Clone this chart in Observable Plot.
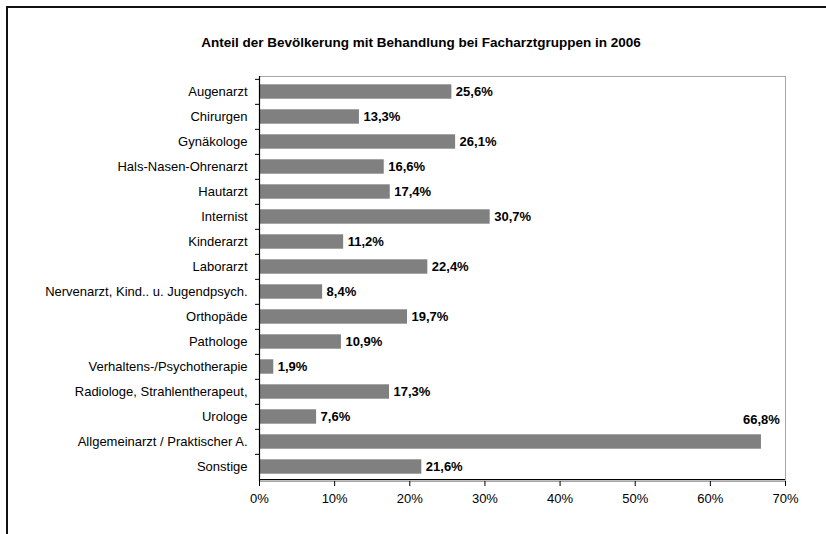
<!DOCTYPE html>
<html>
<head>
<meta charset="utf-8">
<script src="https://cdn.jsdelivr.net/npm/d3@7"></script>
<script src="https://cdn.jsdelivr.net/npm/@observablehq/plot@0.6"></script>
<style>
  html, body { margin: 0; padding: 0; background: #fff; overflow: hidden; }
  #wrap { position: relative; width: 826px; height: 534px; font-family: "Liberation Sans", Arial, sans-serif; }
  #frame { position: absolute; left: 6px; top: 6px; width: 900px; height: 700px; border: 2px solid #111; box-sizing: border-box; }
  #title { position: absolute; top: 35px; left: 421px; transform: translateX(-50%); white-space: nowrap; font-weight: bold; font-size: 13.5px; color: #000; }
  #chart { position: absolute; left: 0; top: 0; }
</style>
</head>
<body>
<div id="wrap">
  <div id="frame"></div>
  <div id="chart"></div>
  <div id="title">Anteil der Bevölkerung mit Behandlung bei Facharztgruppen in 2006</div>
</div>
<script>
const categories = [
  "Augenarzt", "Chirurgen", "Gynäkologe", "Hals-Nasen-Ohrenarzt", "Hautarzt",
  "Internist", "Kinderarzt", "Laborarzt", "Nervenarzt, Kind.. u. Jugendpsych.",
  "Orthopäde", "Pathologe", "Verhaltens-/Psychotherapie", "Radiologe, Strahlentherapeut,",
  "Urologe", "Allgemeinarzt / Praktischer A.", "Sonstige"
];
const values = [25.6, 13.3, 26.1, 16.6, 17.4, 30.7, 11.2, 22.4, 8.4, 19.7, 10.9, 1.9, 17.3, 7.6, 66.8, 21.6];
const xTicks = [0, 10, 20, 30, 40, 50, 60, 70];

const data = categories.map((c, i) => ({category: c, value: values[i]}));
const fmt = v => v.toFixed(1).replace(".", ",") + "%";

const W = 826, H = 534;
const mL = 259, mR = 41, mT = 76, mB = 53;
const step = (H - mT - mB) / categories.length;

const chart = Plot.plot({
  width: W,
  height: H,
  marginLeft: mL,
  marginRight: mR,
  marginTop: mT,
  marginBottom: mB,
  style: {fontFamily: "'Liberation Sans', Arial, sans-serif", fontSize: "13px", color: "#000", background: "transparent", overflow: "visible"},
  x: {domain: [0, 70]},
  y: {domain: categories, padding: 0},
  marks: [
    Plot.frame({stroke: "#a6a6a6", strokeWidth: 1}),
    Plot.barX(data, {x: "value", y: "category", fill: "#808080", insetTop: 5.3, insetBottom: 5.3}),
    Plot.ruleX([0], {stroke: "#000", strokeWidth: 1.2}),
    Plot.ruleY([0], {y: () => categories[categories.length - 1], dy: step / 2, stroke: "#000", strokeWidth: 1.2}),
    Plot.axisY({tickSize: 4, dy: -step / 2, text: null, label: null, stroke: "#000"}),
    Plot.axisY({tickSize: 0, tickPadding: 12, label: null, fontSize: 13, fill: "#000"}),
    Plot.axisX({ticks: xTicks, tickSize: 5, tickPadding: 7, tickFormat: d => d + "%", label: null, fontSize: 13, fill: "#000", stroke: "#000"}),
    Plot.text(data.filter(d => d.value < 60), {x: "value", y: "category", text: d => fmt(d.value), textAnchor: "start", dx: 4, fontWeight: "bold", fontSize: 13, fill: "#000"}),
    Plot.text(data.filter(d => d.value >= 60), {x: "value", y: "category", text: d => fmt(d.value), textAnchor: "middle", dy: -22, fontWeight: "bold", fontSize: 13, fill: "#000"})
  ]
});
document.getElementById("chart").appendChild(chart);
</script>
</body>
</html>
